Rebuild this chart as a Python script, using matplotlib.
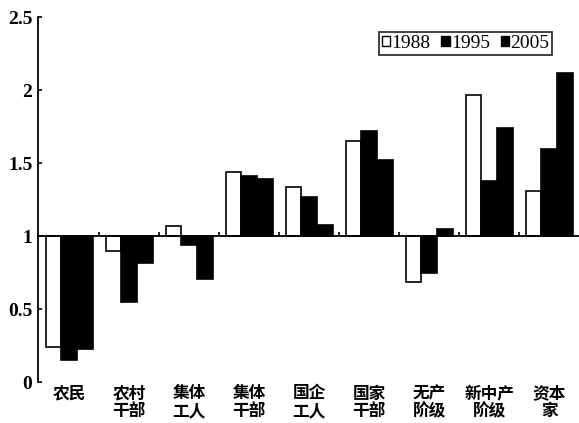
import matplotlib
matplotlib.use("Agg")
import matplotlib.pyplot as plt
from matplotlib.patches import Patch
import numpy as np

categories = ["农民", "农村\n干部", "集体\n工人", "集体\n干部", "国企\n工人",
              "国家\n干部", "无产\n阶级", "新中产\n阶级", "资本\n家"]
years = ["1988", "1995", "2005"]
v1988 = [0.24, 0.90, 1.07, 1.44, 1.34, 1.65, 0.69, 1.97, 1.31]
v1995 = [0.15, 0.55, 0.94, 1.41, 1.27, 1.72, 0.75, 1.38, 1.60]
v2005 = [0.23, 0.82, 0.71, 1.39, 1.08, 1.52, 1.05, 1.74, 2.12]
yticks = [0, 0.5, 1, 1.5, 2, 2.5]
ytick_labels = ["0", "0.5", "1", "1.5", "2", "2.5"]

serif = "Liberation Serif"
cjk = ["Noto Sans CJK SC", "DejaVu Sans"]

fig = plt.figure(figsize=(5.79, 4.23), dpi=100)
ax = fig.add_axes([38/579, (423-382.3)/423, 540/579, (382.3-17.3)/423])

x = np.arange(len(categories))
w = 0.26
series = [v1988, v1995, v2005]
faces = ["white", "black", "black"]
for k, (vals, fc) in enumerate(zip(series, faces)):
    vals = np.array(vals)
    ax.bar(x + (k - 1) * w, vals - 1, bottom=1, width=w, color=fc,
           edgecolor="black", linewidth=1.2, zorder=2)

ax.set_xlim(-0.52, 8.48)
ax.set_ylim(0, 2.5)

ax.spines["top"].set_visible(False)
ax.spines["right"].set_visible(False)
ax.spines["bottom"].set_position(("data", 1))
ax.spines["bottom"].set_linewidth(1.3)
ax.spines["left"].set_linewidth(1.3)

ax.set_xticks(x[:-1] + 0.5)
ax.set_xticklabels([])
ax.tick_params(axis="x", direction="in", length=3, width=1.2)
ax.set_yticks(yticks)
ax.set_yticklabels(ytick_labels, fontfamily=serif, fontsize=14, fontweight="bold")
ax.tick_params(axis="y", direction="in", length=3, width=1.2, pad=4)

for xi, lab in zip(x, categories):
    ax.text(xi, -0.015, lab, ha="center", va="top", fontsize=12,
            fontweight="bold", family=cjk, linespacing=0.98,
            transform=ax.transData)

handles = [Patch(facecolor=fc, edgecolor="black", linewidth=1.0) for fc in faces]
leg = ax.legend(handles, years, loc="upper left", bbox_to_anchor=(0.631, 0.96),
                ncol=3, frameon=True, fancybox=False, edgecolor="black",
                borderaxespad=0, handlelength=0.45, handleheight=0.45,
                handletextpad=0.05, columnspacing=0.55, borderpad=0.15,
                prop={"family": serif, "size": 14})
leg.get_frame().set_linewidth(1.3)

fig.savefig("out.png", dpi=100)
